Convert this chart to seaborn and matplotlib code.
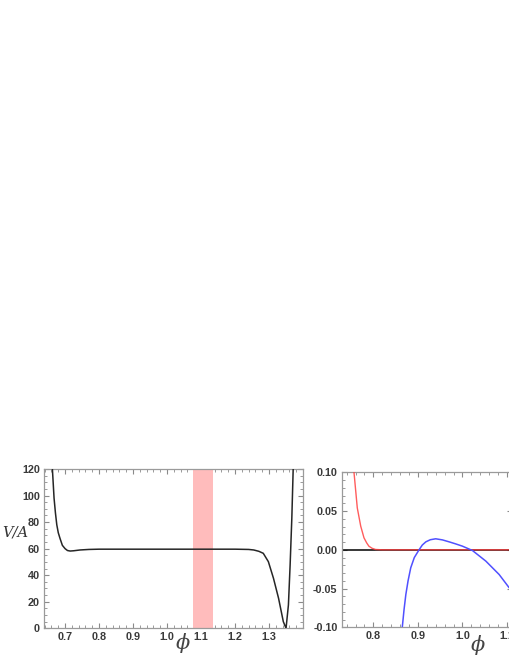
import numpy as np
import pandas as pd
import matplotlib
matplotlib.use("Agg")
import matplotlib.pyplot as plt
import seaborn as sns
from matplotlib.ticker import MultipleLocator, FormatStrFormatter

# ---- data ----
phi_v = [0.6627, 0.6676, 0.6716, 0.6756, 0.680, 0.685, 0.692, 0.700, 0.707, 0.715,
         0.725, 0.744, 0.77, 0.80, 0.90, 1.00, 1.10, 1.20, 1.24, 1.255, 1.27, 1.283,
         1.298, 1.313, 1.328, 1.342, 1.350, 1.357, 1.362, 1.367, 1.371]
V_over_A = [120, 98, 87, 78, 72, 67.8, 62.5, 60.0, 58.6, 58.2,
            58.4, 59.0, 59.4, 59.6, 59.6, 59.6, 59.6, 59.6, 59.4, 59.0, 58.0, 56.5,
            50.2, 37.7, 22.6, 5.0, 0.0, 17.6, 47.7, 82.9, 120]
band = [1.075, 1.135]

phi_red = [0.7566, 0.764, 0.7717, 0.779, 0.785, 0.790, 0.797, 0.805, 0.82, 1.11]
val_red = [0.10, 0.054, 0.0305, 0.0155, 0.009, 0.0047, 0.002, 0.0004, 0.0, 0.0]

phi_blue = [0.865, 0.869, 0.873, 0.878, 0.884, 0.892, 0.9027, 0.910, 0.918, 0.928, 0.940,
            0.955, 0.970, 0.985, 1.0, 1.0225, 1.0526, 1.0825, 1.105]
val_blue = [-0.10, -0.077, -0.0577, -0.04, -0.0232, -0.010, 0.0, 0.0062, 0.0103, 0.013, 0.0142,
            0.0128, 0.0103, 0.0076, 0.0047, -0.0009, -0.0146, -0.0319, -0.049]

left_yticks = [0, 20, 40, 60, 80, 100, 120]
left_xticks = [0.7, 0.8, 0.9, 1.0, 1.1, 1.2, 1.3]
right_yticks = [-0.10, -0.05, 0.0, 0.05, 0.10]
right_xticks = [0.8, 0.9, 1.0, 1.1]

sns.set_style("ticks")
plt.rcParams['font.family'] = ['Liberation Sans', 'DejaVu Sans']
plt.rcParams['axes.unicode_minus'] = True

fig = plt.figure(figsize=(5.1, 6.6), dpi=100)
W, H = 510, 660

def px_axes(l, t, r, b):
    return fig.add_axes([l / W, (H - b) / H, (r - l) / W, (b - t) / H])

ax1 = px_axes(44, 469, 302.7, 628.3)
ax2 = px_axes(341.7, 472.3, 512.3, 627.3)

df1 = pd.DataFrame({"phi": phi_v, "V": V_over_A})
ax1.axvspan(band[0], band[1], color="#ffbcbc", lw=0, zorder=1)
sns.lineplot(data=df1, x="phi", y="V", sort=False, ax=ax1, color="#262626", lw=1.1, zorder=3)
ax1.set_xlim(0.638, 1.399)
ax1.set_ylim(0, 120)
ax1.set_xticks(left_xticks)
ax1.set_yticks(left_yticks)
ax1.xaxis.set_minor_locator(MultipleLocator(0.02))
ax1.yaxis.set_minor_locator(MultipleLocator(5))
ax1.xaxis.set_major_formatter(FormatStrFormatter('%.1f'))

df_r = pd.DataFrame({"phi": phi_red, "v": val_red})
df_b = pd.DataFrame({"phi": phi_blue, "v": val_blue})
ax2.axhline(0, color="black", lw=1.1, zorder=2)
sns.lineplot(data=df_r, x="phi", y="v", sort=False, ax=ax2, color="#ff4040", lw=1.0, zorder=3, alpha=0.85)
sns.lineplot(data=df_b, x="phi", y="v", sort=False, ax=ax2, color="#5050ff", lw=1.1, zorder=3)
ax2.set_xlim(0.729, 1.112)
ax2.set_ylim(-0.10, 0.10)
ax2.set_xticks(right_xticks)
ax2.set_yticks(right_yticks)
ax2.xaxis.set_minor_locator(MultipleLocator(0.02))
ax2.yaxis.set_minor_locator(MultipleLocator(0.01))
ax2.xaxis.set_major_formatter(FormatStrFormatter('%.1f'))
ax2.yaxis.set_major_formatter(FormatStrFormatter('%.2f'))

for ax in (ax1, ax2):
    ax.set_xlabel("")
    ax.set_ylabel("")
    for s in ax.spines.values():
        s.set_visible(True)
        s.set_color("#9a9a9a")
        s.set_linewidth(0.9)
    ax.tick_params(which="both", direction="in", top=True, right=True,
                   color="#8a8a8a", labelsize=7.8, labelcolor="#3a3a3a", pad=3)
    ax.tick_params(which="major", length=3.5, width=0.8)
    ax.tick_params(which="minor", length=2, width=0.6)
    for lab in ax.get_xticklabels() + ax.get_yticklabels():
        lab.set_fontweight("bold")

fig.text(2 / W, (H - 533) / H, "V/A", fontsize=10.5, family="DejaVu Serif",
         style="italic", color="#333333", ha="left", va="center")
fig.text(183 / W, (H - 643) / H, "ϕ", fontsize=15, family="DejaVu Serif",
         style="italic", color="#444444", ha="center", va="center")
fig.text(478 / W, (H - 645) / H, "ϕ", fontsize=15, family="DejaVu Serif",
         style="italic", color="#444444", ha="center", va="center")

fig.savefig("out.png", dpi=100)
